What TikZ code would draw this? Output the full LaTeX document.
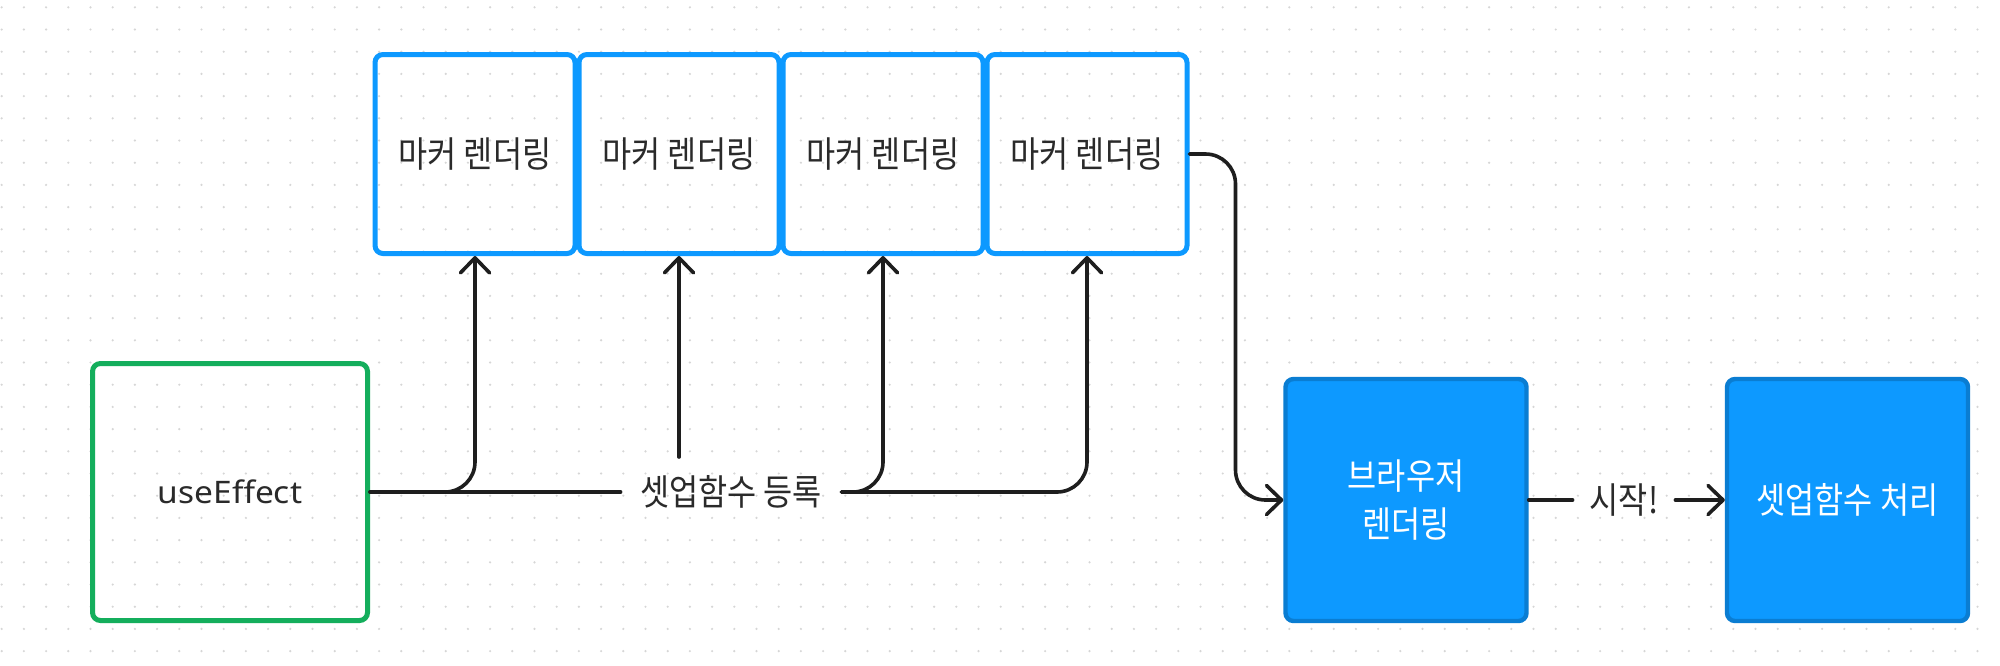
\documentclass[tikz,border=0pt]{standalone}
\usepackage{fontspec}
\newfontfamily\kr[FakeStretch=0.88]{Noto Sans CJK KR}
\newfontfamily\lat[FakeStretch=1.08]{Noto Sans}
\usetikzlibrary{arrows.meta}
\definecolor{fblue}{HTML}{0D99FF}
\definecolor{dblue}{HTML}{0A7DD2}
\definecolor{fgreen}{HTML}{14AE5C}
\definecolor{ink}{HTML}{1E1E1E}
\definecolor{txt}{HTML}{2A2A2A}
\definecolor{dotc}{HTML}{D6D6D6}
\begin{document}
\begin{tikzpicture}[x=0.5pt,y=-0.5pt,
  base/.style={rounded corners=4pt, line width=2.5pt, inner sep=0pt, align=center, text=txt},
  krfont/.style={font=\kr\fontsize{18pt}{24pt}\selectfont},
  marker/.style={base, krfont, draw=fblue, minimum width=100pt, minimum height=99.5pt},
  effbox/.style={base, draw=fgreen, minimum width=137.5pt, minimum height=128.5pt, font=\lat\fontsize{15.5pt}{18pt}\selectfont},
  solid/.style={base, krfont, draw=dblue, fill=fblue, text=white, line width=2.2pt, minimum width=120.5pt, minimum height=121pt},
  lbl/.style={krfont, text=txt, inner sep=0pt},
  conn/.style={draw=ink, line width=1.8pt, line cap=round},
  arr/.style={conn, -{Straight Barb[length=7.5pt,width=14.5pt,round]}},
  rc/.style={rounded corners=15pt}
]
\useasboundingbox (0,0) rectangle (2000,665);
\fill[white] (0,0) rectangle (2000,665);
% dot grid
\foreach \i in {0,...,89}{
  \foreach \j in {0,...,29}{
    \fill[dotc] ({1.7+22.2*\i},{7.3+22.2*\j}) circle (0.6pt);
  }
}
% nodes
\node[marker] (b1) at (475,154) {마커 렌더링};
\node[marker] (b2) at (679,154) {마커 렌더링};
\node[marker] (b3) at (883,154) {마커 렌더링};
\node[marker] (b4) at (1087,154) {마커 렌더링};
\node[effbox] (ue) at (230,492) {useEffect};
\node[lbl, minimum width=110pt] (lab) at (731,492) {셋업함수 등록};
\coordinate (c2) at (679,457);
\node[solid] (br) at (1406,500) {브라우저\\렌더링};
\node[solid] (su) at (1847.5,500) {셋업함수 처리};
\node[lbl, minimum width=51pt] (st) at (1624,500) {시작!};
% connectors
\draw[conn] (ue.east) -- (lab.west);
\draw[arr, rc] (ue.east) -| (b1.south);
\draw[arr] (c2) -- (b2.south);
\draw[arr, rc] (lab.east) -| (b3.south);
\draw[arr, rc] (lab.east) -| (b4.south);
\draw[arr, rc] (b4.east) -- ++(46,0) |- (br.west);
\draw[conn] (br.east) -- (st.west);
\draw[arr] (st.east) -- (su.west);
\end{tikzpicture}
\end{document}
